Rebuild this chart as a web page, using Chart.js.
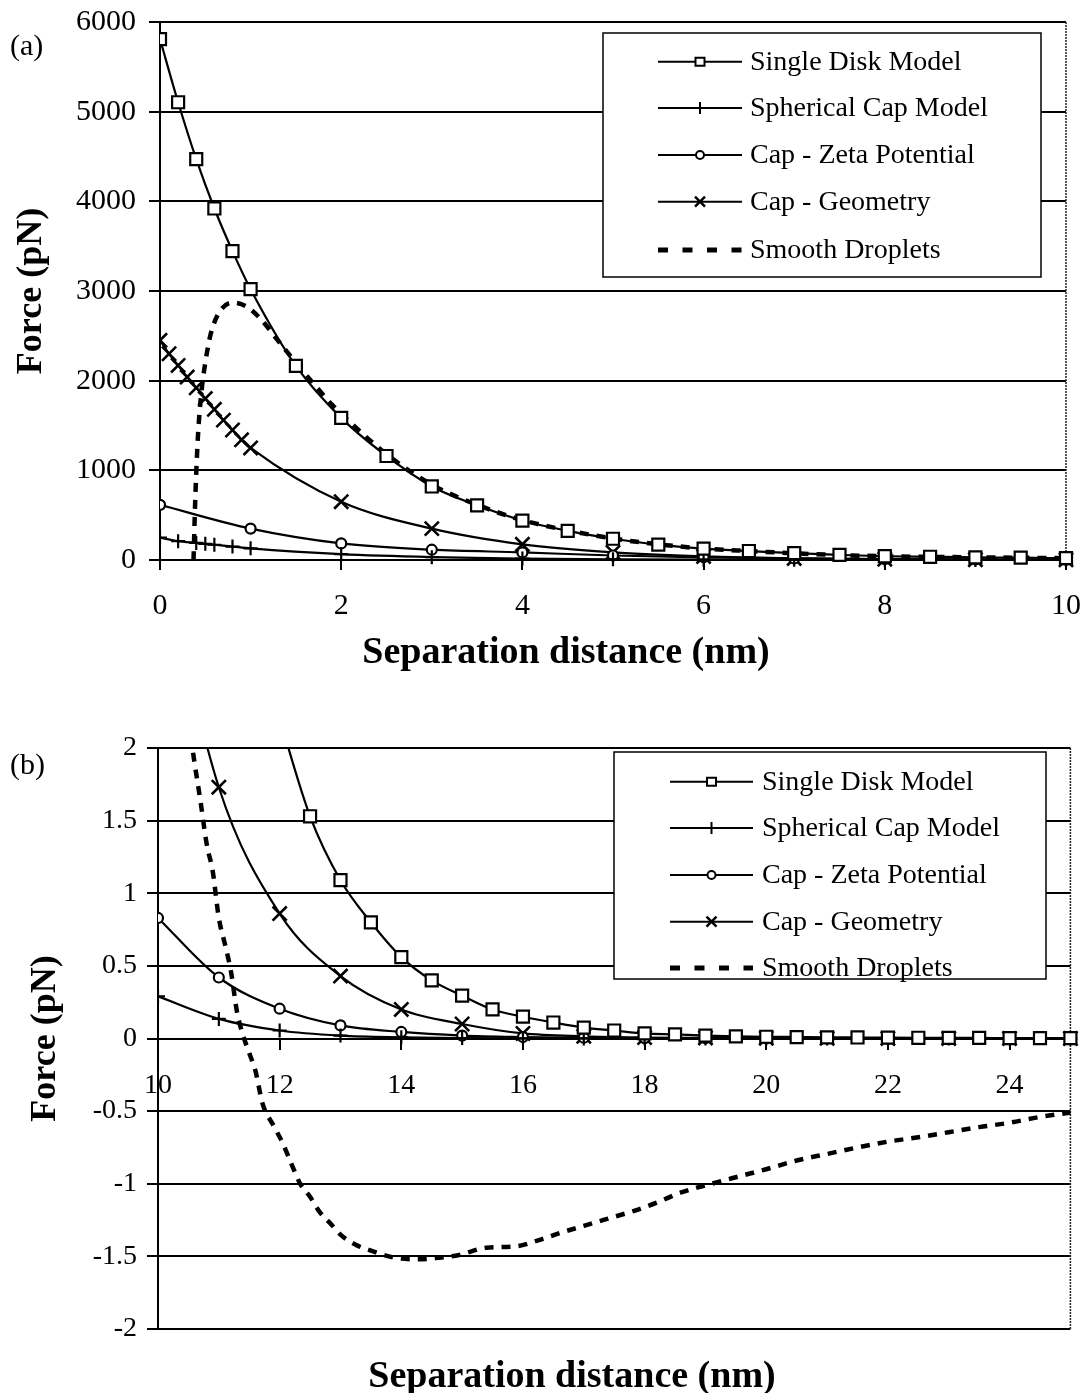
<!DOCTYPE html>
<html>
<head>
<meta charset="utf-8">
<script src="https://cdn.jsdelivr.net/npm/chart.js@4.4.1/dist/chart.umd.min.js"></script>
<style>
html,body{margin:0;padding:0;background:#fff;}
#wrap{position:relative;width:1083px;height:1393px;overflow:hidden;background:#fff;}
canvas{position:absolute;left:0;display:block;}
#ca{top:0;}
#cb{top:700px;}
.lab{position:absolute;left:10px;font-family:"Liberation Serif",serif;font-size:30px;line-height:30px;color:#000;}
.xt{position:absolute;font-family:"Liberation Serif",serif;font-weight:bold;font-size:38px;line-height:38px;color:#000;white-space:nowrap;transform:translate(-50%,-50%);}
</style>
</head>
<body>
<div id="wrap">
<canvas id="ca" width="1083" height="700"></canvas>
<canvas id="cb" width="1083" height="693"></canvas>
<div class="lab" style="top:30px">(a)</div>
<div class="lab" style="top:749px">(b)</div>
<div class="xt" id="xta" style="left:566px;top:650px"></div>
<div class="xt" id="xtb" style="left:572px;top:1374px"></div>
</div>
<script>
// ---------- names ----------
const seriesNames = ['Single Disk Model', 'Spherical Cap Model', 'Cap - Zeta Potential', 'Cap - Geometry', 'Smooth Droplets'];
const xTitle = 'Separation distance (nm)';
const yTitle = 'Force (pN)';

// ---------- panel (a) data ----------
const aDiskX = [0, 0.2, 0.4, 0.6, 0.8, 1, 1.5, 2, 2.5, 3, 3.5, 4, 4.5, 5, 5.5, 6, 6.5, 7, 7.5, 8, 8.5, 9, 9.5, 10];
const aDiskY = [5810, 5105, 4470, 3920, 3445, 3020, 2165, 1585, 1160, 820, 610, 440, 325, 237, 172, 126, 100, 76, 57, 42, 36, 30, 26, 20];

const aSphX = [0, 0.2, 0.4, 0.5, 0.6, 0.8, 1, 2, 3, 4, 5, 6, 7, 8, 9, 10];
const aSphY = [250, 210, 190, 180, 170, 150, 130, 65, 32, 16, 8, 4, 2, 1, 0.5, 0.2];

const aZetaX = [0, 1, 2, 3, 4, 5, 6, 7, 8, 9, 10];
const aZetaY = [615, 350, 185, 115, 85, 50, 30, 18, 10, 6, 3];

const aGeoX = [0, 0.1, 0.2, 0.3, 0.4, 0.5, 0.6, 0.7, 0.8, 0.9, 1, 2, 3, 4, 5, 6, 7, 8, 9, 10];
const aGeoY = [2450, 2300, 2170, 2040, 1920, 1800, 1680, 1560, 1450, 1340, 1250, 650, 350, 175, 85, 40, 18, 9, 4, 2];

const aSmX = [0.37, 0.39, 0.42, 0.46, 0.5, 0.55, 0.6, 0.68, 0.8, 0.95, 1.1, 1.3, 1.5, 1.7, 1.9, 2, 2.5, 3, 3.5, 4, 4.5, 5, 5.5, 6, 6.5, 7, 7.5, 8, 8.5, 9, 9.5, 10];
const aSmY = [0, 700, 1400, 1900, 2200, 2480, 2650, 2800, 2870, 2830, 2700, 2450, 2200, 1960, 1730, 1630, 1180, 840, 615, 445, 330, 240, 175, 128, 100, 75, 55, 42, 35, 30, 25, 20];

const aXTickLabels = ['0', '2', '4', '6', '8', '10'];
const aYTickLabels = ['0', '1000', '2000', '3000', '4000', '5000', '6000'];

// ---------- panel (b) data ----------
const bDiskX = [12, 12.5, 13, 13.5, 14, 14.5, 15, 15.5, 16, 16.5, 17, 17.5, 18, 18.5, 19, 19.5, 20, 20.5, 21, 21.5, 22, 22.5, 23, 23.5, 24, 24.5, 25];
const bDiskY = [2.2, 1.53, 1.09, 0.80, 0.56, 0.40, 0.295, 0.20, 0.15, 0.11, 0.075, 0.055, 0.035, 0.028, 0.02, 0.015, 0.012, 0.01, 0.008, 0.007, 0.006, 0.005, 0.004, 0.004, 0.003, 0.003, 0.002];

const bIntX = [10, 11, 12, 13, 14, 15, 16, 17, 18, 19, 20, 21, 22, 23, 24, 25];
const bSphY = [0.29, 0.135, 0.055, 0.02, 0.008, 0.003, 0.0012, 0.0005, 0.0002, 0.0001, 0, 0, 0, 0, 0, 0];
const bZetaY = [0.83, 0.42, 0.205, 0.09, 0.045, 0.02, 0.01, 0.005, 0.003, 0.002, 0.001, 0.0005, 0.0003, 0.0002, 0.0001, 0];
const bGeoY = [3.46, 1.73, 0.86, 0.43, 0.20, 0.10, 0.035, 0.015, 0.007, 0.004, 0.002, 0.001, 0.0005, 0.0003, 0.0002, 0.0001];

const bSmX = [10.5, 10.6, 10.7, 10.8, 10.9, 11.0, 11.1, 11.2, 11.3, 11.4, 11.5, 11.6, 11.72, 11.9, 12.05, 12.2, 12.35, 12.5, 12.65, 12.85, 13.0, 13.25, 13.5, 13.9, 14.3, 14.6, 14.95, 15.4, 15.9, 16.25, 16.6, 17.0, 17.4, 17.8, 18.2, 18.6, 19.1, 19.5, 20.0, 20.5, 21.0, 21.5, 22.0, 22.5, 23.0, 23.5, 24.0, 24.5, 25.0];
const bSmY = [2.2, 1.9, 1.63, 1.34, 1.15, 0.83, 0.65, 0.46, 0.18, 0.02, -0.1, -0.22, -0.45, -0.60, -0.72, -0.87, -1.01, -1.09, -1.19, -1.28, -1.35, -1.42, -1.46, -1.51, -1.52, -1.51, -1.49, -1.44, -1.43, -1.39, -1.34, -1.29, -1.24, -1.19, -1.13, -1.06, -1.0, -0.955, -0.90, -0.84, -0.795, -0.75, -0.71, -0.68, -0.645, -0.61, -0.58, -0.54, -0.51];

const bXTickLabels = ['10', '12', '14', '16', '18', '20', '22', '24'];
const bYTickLabels = ['-2', '-1.5', '-1', '-0.5', '0', '0.5', '1', '1.5', '2'];

document.getElementById('xta').textContent = xTitle;
document.getElementById('xtb').textContent = xTitle;

// ---------- helpers ----------
function pts(xs, ys) { return xs.map((x, i) => ({ x: x, y: ys[i] })); }

const FONT = '"Liberation Serif", "Times New Roman", serif';
Chart.defaults.font.family = FONT;
Chart.defaults.color = '#000';

const markerStyles = [
  { pointStyle: 'rect', pointRadius: 8.5, pointBorderWidth: 2.2 },
  { pointStyle: 'cross', pointRadius: 7, pointBorderWidth: 2.2 },
  { pointStyle: 'circle', pointRadius: 5, pointBorderWidth: 2.2 },
  { pointStyle: 'crossRot', pointRadius: 10, pointBorderWidth: 2.6 },
  { pointStyle: false, pointRadius: 0, pointBorderWidth: 0 }
];

function makeDataset(i, data) {
  const m = markerStyles[i];
  const ds = {
    label: seriesNames[i],
    data: data,
    borderColor: '#000',
    backgroundColor: '#fff',
    pointBackgroundColor: '#fff',
    pointBorderColor: '#000',
    pointStyle: m.pointStyle,
    pointRadius: m.pointRadius,
    pointHoverRadius: m.pointRadius,
    pointBorderWidth: m.pointBorderWidth,
    borderWidth: 2.2,
    fill: false,
    cubicInterpolationMode: 'monotone',
    clip: { left: 0, top: 0, right: 14, bottom: 14 }
  };
  if (i === 4) {
    ds.borderDash = [9, 8];
    ds.borderWidth = 4.5;
  }
  return ds;
}

function drawMark(ctx, style, x, y) {
  ctx.save();
  ctx.strokeStyle = '#000';
  ctx.fillStyle = '#fff';
  ctx.lineWidth = 2;
  ctx.setLineDash([]);
  ctx.beginPath();
  if (style === 'rect') {
    ctx.rect(x - 4.5, y - 4, 9, 8);
    ctx.fill(); ctx.stroke();
  } else if (style === 'cross') {
    ctx.moveTo(x, y - 6); ctx.lineTo(x, y + 6);
    ctx.stroke();
  } else if (style === 'circle') {
    ctx.arc(x, y, 4, 0, Math.PI * 2);
    ctx.fill(); ctx.stroke();
  } else if (style === 'crossRot') {
    ctx.lineWidth = 2.5;
    ctx.moveTo(x - 5, y - 5); ctx.lineTo(x + 5, y + 5);
    ctx.moveTo(x + 5, y - 5); ctx.lineTo(x - 5, y + 5);
    ctx.stroke();
  }
  ctx.restore();
}

const legendBox = {
  id: 'legendBox',
  afterDatasetsDraw(chart, args, o) {
    if (!o || !o.box) return;
    const ctx = chart.ctx;
    const l = o.box[0], t = o.box[1], r = o.box[2], b = o.box[3];
    ctx.save();
    ctx.fillStyle = '#fff';
    ctx.fillRect(l, t, r - l, b - t);
    ctx.strokeStyle = '#000';
    ctx.lineWidth = 1.5;
    ctx.strokeRect(l, t, r - l, b - t);
    ctx.font = o.font;
    ctx.textBaseline = 'middle';
    ctx.textAlign = 'left';
    chart.data.datasets.forEach((ds, i) => {
      const y = o.rows[i];
      ctx.strokeStyle = '#000';
      if (ds.borderDash) {
        ctx.lineWidth = 5;
        ctx.setLineDash([10, 14.5]);
      } else {
        ctx.lineWidth = 2;
        ctx.setLineDash([]);
      }
      ctx.beginPath();
      ctx.moveTo(o.x1, y);
      ctx.lineTo(o.x2, y);
      ctx.stroke();
      ctx.setLineDash([]);
      drawMark(ctx, ds.pointStyle, (o.x1 + o.x2) / 2, y);
      ctx.fillStyle = '#000';
      ctx.fillText(ds.label, o.tx, y + 1);
    });
    ctx.restore();
  }
};

const rightBorder = {
  id: 'rightBorder',
  beforeDatasetsDraw(chart) {
    const a = chart.chartArea;
    const ctx = chart.ctx;
    ctx.save();
    ctx.strokeStyle = '#222';
    ctx.lineWidth = 1.5;
    ctx.setLineDash([2, 1]);
    ctx.beginPath();
    ctx.moveTo(a.right, a.top);
    ctx.lineTo(a.right, a.bottom);
    ctx.stroke();
    ctx.restore();
  }
};

function zeroPad(s) { s.paddingTop = 0; s.paddingBottom = 0; s.paddingLeft = 0; s.paddingRight = 0; }

// ---------- chart (a) ----------
new Chart(document.getElementById('ca'), {
  type: 'line',
  data: {
    datasets: [
      makeDataset(0, pts(aDiskX, aDiskY)),
      makeDataset(1, pts(aSphX, aSphY)),
      makeDataset(2, pts(aZetaX, aZetaY)),
      makeDataset(3, pts(aGeoX, aGeoY)),
      makeDataset(4, pts(aSmX, aSmY))
    ]
  },
  options: {
    responsive: false,
    animation: false,
    events: [],
    layout: { padding: { top: 22, right: 17, bottom: 0, left: 0 } },
    plugins: {
      legend: { display: false },
      tooltip: { enabled: false },
      legendBox: {
        box: [603, 33, 1041, 277],
        rows: [61.7, 108, 155, 201.7, 250],
        x1: 658, x2: 742, tx: 750,
        font: '28px ' + FONT
      }
    },
    scales: {
      x: {
        type: 'linear', min: 0, max: 10,
        ticks: {
          stepSize: 2, maxRotation: 0, autoSkip: false, padding: 18,
          font: { size: 30 }, color: '#000',
          callback: (v, i) => aXTickLabels[i]
        },
        grid: { drawOnChartArea: false, drawTicks: true, tickLength: 10, color: '#000', lineWidth: 2 },
        border: { display: true, color: '#000', width: 2 },
        title: { display: false },
        afterFit: (s) => { s.height = 140; zeroPad(s); }
      },
      y: {
        type: 'linear', min: 0, max: 6000,
        ticks: {
          stepSize: 1000, padding: 13, autoSkip: false,
          font: { size: 30 }, color: '#000',
          callback: (v, i) => aYTickLabels[i]
        },
        grid: { color: '#000', lineWidth: 2, tickLength: 11 },
        border: { display: true, color: '#000', width: 2 },
        title: { display: true, text: yTitle, color: '#000', font: { size: 36, weight: 'bold' }, padding: { top: 10, bottom: 0 } },
        afterFit: (s) => { s.width = 160; zeroPad(s); }
      }
    }
  },
  plugins: [legendBox, rightBorder]
});

// ---------- chart (b) ----------
new Chart(document.getElementById('cb'), {
  type: 'line',
  data: {
    datasets: [
      makeDataset(0, pts(bDiskX, bDiskY)),
      makeDataset(1, pts(bIntX, bSphY)),
      makeDataset(2, pts(bIntX, bZetaY)),
      makeDataset(3, pts(bIntX, bGeoY)),
      makeDataset(4, pts(bSmX, bSmY))
    ]
  },
  options: {
    responsive: false,
    animation: false,
    events: [],
    layout: { padding: { top: 48, right: 7, bottom: 64, left: 0 } },
    plugins: {
      legend: { display: false },
      tooltip: { enabled: false },
      legendBox: {
        box: [614, 52, 1046, 279],
        rows: [81.7, 128, 175, 221.7, 268],
        x1: 670, x2: 753, tx: 762,
        font: '28px ' + FONT
      }
    },
    scales: {
      x: {
        type: 'linear', min: 10, max: 25,
        position: { y: 0 },
        ticks: {
          stepSize: 2, includeBounds: false, maxRotation: 0, autoSkip: false, padding: 20,
          font: { size: 28 }, color: '#000',
          callback: (v, i) => bXTickLabels[i]
        },
        grid: { drawOnChartArea: false, drawTicks: true, tickLength: 10, color: '#000', lineWidth: 2 },
        border: { display: true, color: '#000', width: 2 },
        title: { display: false },
        afterFit: (s) => { s.height = 80; zeroPad(s); }
      },
      y: {
        type: 'linear', min: -2, max: 2,
        ticks: {
          stepSize: 0.5, padding: 10, autoSkip: false,
          font: { size: 28 }, color: '#000',
          callback: (v, i) => bYTickLabels[i]
        },
        grid: { color: '#000', lineWidth: 2, tickLength: 11 },
        border: { display: true, color: '#000', width: 2 },
        title: { display: true, text: yTitle, color: '#000', font: { size: 36, weight: 'bold' }, padding: { top: 24, bottom: 0 } },
        afterFit: (s) => { s.width = 158; zeroPad(s); }
      }
    }
  },
  plugins: [legendBox, rightBorder]
});
</script>
</body>
</html>
